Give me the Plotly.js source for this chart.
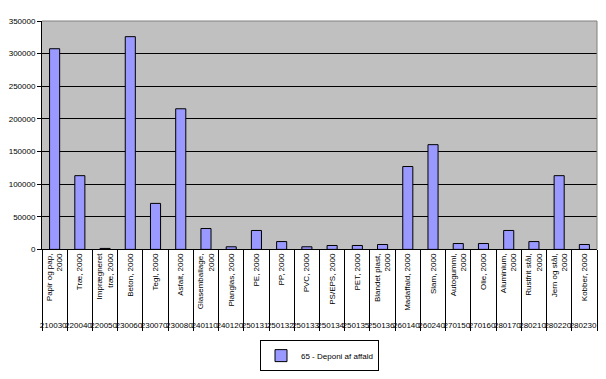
<!DOCTYPE html>
<html><head><meta charset="utf-8">
<script src="https://cdn.plot.ly/plotly-3.0.1.min.js"></script>
<style>html,body{margin:0;padding:0;background:#fff}</style>
</head><body><div id="chart" style="width:606px;height:379px"></div>
<script>
const codes = ["210030","220040","220050","230060","230070","230080","240110","240120","250131","250132","250133","250134","250135","250136","260140","260240","270150","270160","280170","280210","280220","280230"];
const names = ["Papir og pap,<br>2000","Træ, 2000","Imprægneret<br>træ, 2000","Beton, 2000","Tegl, 2000","Asfalt, 2000","Glasemballage,<br>2000","Planglas, 2000","PE, 2000","PP, 2000","PVC, 2000","PS/EPS, 2000","PET, 2000","Blandet plast,<br>2000","Madaffald, 2000","Slam, 2000","Autogummi,<br>2000","Olie, 2000","Aluminium,<br>2000","Rustfrit stål,<br>2000","Jern og stål,<br>2000","Kobber, 2000"];
const values = [307500,113000,1500,326000,70500,215500,32000,4000,29000,12000,4000,6000,6000,7500,127000,160500,9000,9000,29000,12000,113000,7500];
const seriesName = "65 - Deponi af affald";

const trace = {
  type: "bar",
  x: [codes, names],
  y: values,
  name: seriesName,
  marker: {color: "#9999FF", line: {color: "#000", width: 1}},
  hoverinfo: "skip",
  showlegend: true
};
const layout = {
  width: 606, height: 379,
  margin: {l: 42, r: 9, t: 21, b: 0, autoexpand: false},
  paper_bgcolor: "#fff",
  plot_bgcolor: "#C0C0C0",
  font: {family: "Liberation Sans, Arial, sans-serif", size: 8, color: "#000"},
  bargap: 0.6,
  xaxis: {
    type: "multicategory",
    tickangle: -90,
    automargin: false,
    showline: true, linecolor: "#000", linewidth: 1,
    showgrid: false,
    showdividers: true, dividercolor: "#000", dividerwidth: 1,
    tickfont: {size: 8},
    ticks: ""
  },
  yaxis: {
    domain: [0.362, 1],
    range: [0, 350000],
    dtick: 50000,
    automargin: false,
    showgrid: true, gridcolor: "#000", gridwidth: 1,
    showline: true, linecolor: "#000", linewidth: 1,
    ticks: "outside", ticklen: 4, tickcolor: "#000",
    tickformat: "d",
    zeroline: false,
    tickfont: {size: 8}
  },
  showlegend: true,
  legend: {
    orientation: "h", x: 0.5, xanchor: "center", y: 0.022, yanchor: "bottom",
    bordercolor: "#000", borderwidth: 1, bgcolor: "#fff",
    itemwidth: 30,
    font: {size: 8}
  },
  shapes: [
    {type: "line", xref: "paper", yref: "paper", x0: 0, x1: 1, y0: 1, y1: 1, line: {color: "#808080", width: 1}},
    {type: "line", xref: "paper", yref: "paper", x0: 1, x1: 1, y0: 0.362, y1: 1, line: {color: "#808080", width: 1}}
  ]
};
Plotly.newPlot("chart", [trace], layout, {displayModeBar: false, staticPlot: true});
</script></body></html>
